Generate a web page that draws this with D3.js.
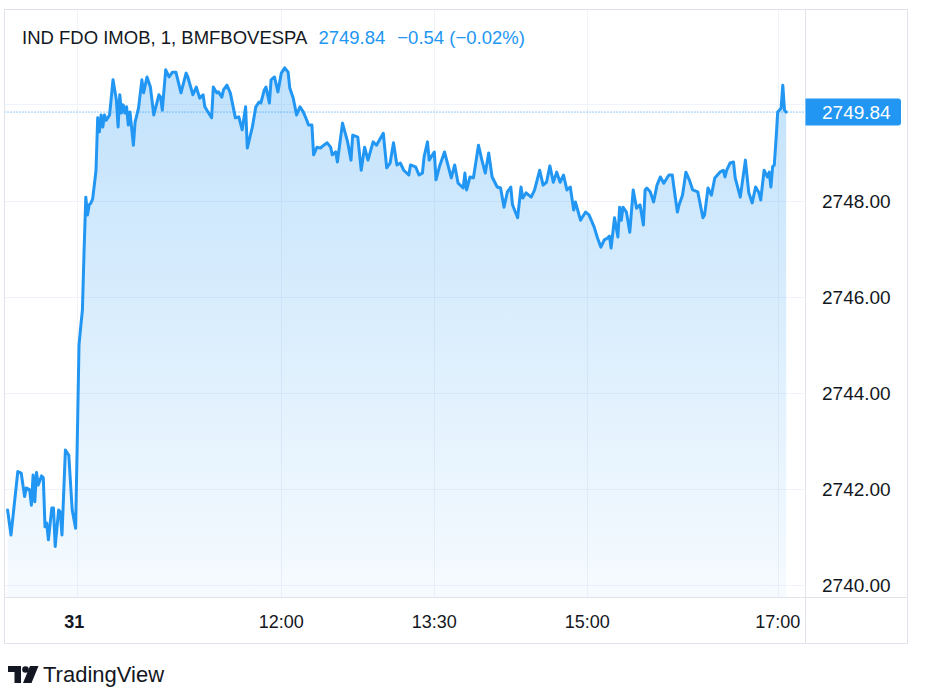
<!DOCTYPE html>
<html><head><meta charset="utf-8">
<script src="https://cdn.jsdelivr.net/npm/d3@7"></script>
<style>
body{margin:0;background:#fff;}
svg{display:block;font-family:"Liberation Sans",Arial,sans-serif;}
</style>
</head><body>
<svg id="c" width="930" height="695"></svg>
<script>
// ---- data (bar index: minutes from session open on the 31st; negatives = previous session) ----
const barIdx = [-41,-39,-35,-33,-31,-30,-28,-27,-26,-25,-24,-23,-21,-20,-19,-18,-17,-15,-14,-13,-11,-10,-9,-7,-5,-3,-1,
0,1,2,3,4,5,6,7,8,9,10,11,12,13,14,15,16,17,19,21,23,24,25,26,27,28,29,30,31,33,34,36,38,39,41,43,45,48,49,50,52,54,56,58,61,64,65,68,70,72,74,75,79,80,82,83,85,86,88,90,93,95,97,99,100,103,105,107,108,110,111,113,114,116,118,
120,122,124,125,127,129,131,133,135,136,138,139,141,143,145,147,149,150,152,153,156,159,161,162,165,167,169,171,174,176,180,182,184,186,188,190,192,195,196,199,201,203,204,206,207,
210,211,213,216,220,222,224,227,228,229,231,233,236,238,240,242,244,247,249,251,253,255,256,259,261,262,264,267,269,272,274,276,278,280,282,284,286,288,290,292,293,296,299,
301,304,306,308,310,312,313,314,316,318,319,320,321,323,325,327,329,331,333,334,335,337,339,341,343,345,348,350,351,353,354,356,358,360,362,365,368,369,371,373,375,378,380,381,382,384,386,387,390,393,395,397,399,401,402,404,406,407,408,409,410,411,412,414,415,416,417];
const prices = [2741.56,2741.04,2742.36,2742.33,2741.84,2742.02,2741.98,2741.66,2742.29,2741.73,2742.34,2742.08,2742.27,2742.23,2741.21,2741.29,2740.94,2741.60,2741.60,2740.80,2741.56,2741.52,2741.04,2742.81,2742.70,2741.56,2741.18,
2743.02,2744.99,2745.37,2745.72,2746.97,2748.07,2747.70,2747.91,2747.95,2748.03,2748.32,2748.63,2749.72,2749.43,2749.78,2749.53,2749.78,2749.67,2749.78,2750.51,2750.09,2749.53,2750.20,2749.82,2749.99,2749.82,2749.95,2749.57,2749.84,2749.15,2749.63,2749.92,2750.51,2750.24,2750.57,2750.36,2749.78,2750.20,2750.15,2749.88,2750.72,2750.57,2750.67,2750.67,2750.24,2750.65,2750.57,2750.20,2750.36,2750.13,2750.20,2749.95,2749.72,2750.36,2750.24,2750.26,2750.15,2750.30,2750.40,2750.24,2749.72,2749.74,2749.47,2749.95,2749.09,2749.53,2749.95,2750.05,2750.03,2750.30,2750.36,2750.03,2750.51,2750.57,2750.26,
2750.65,2750.76,2750.67,2750.34,2750.13,2749.78,2749.95,2749.84,2749.67,2749.57,2749.57,2748.95,2749.11,2749.09,2749.15,2749.20,2749.11,2748.95,2749.01,2748.80,2749.61,2749.22,2748.84,2749.36,2749.32,2748.63,2749.11,2748.84,2749.22,2749.15,2749.40,2748.68,2748.78,2749.20,2748.74,2748.78,2748.63,2748.53,2748.74,2748.70,2748.53,2748.57,2748.91,2749.22,2748.84,
2749.01,2748.43,2748.70,2749.01,2748.47,2748.74,2748.36,2748.26,2748.57,2748.22,2748.49,2748.47,2749.15,2748.84,2748.57,2748.99,2748.49,2748.28,2748.26,2747.86,2748.18,2748.28,2747.91,2747.64,2748.28,2748.05,2748.16,2748.07,2748.22,2748.63,2748.32,2748.38,2748.72,2748.38,2748.59,2748.38,2748.53,2748.22,2748.28,2747.80,2747.97,2747.59,2747.76,
2747.70,2747.45,2747.22,2747.03,2747.18,2747.22,2747.26,2747.01,2747.64,2747.24,2747.86,2747.59,2747.86,2747.76,2747.34,2748.22,2747.84,2747.91,2747.49,2748.22,2748.26,2748.18,2747.97,2748.32,2748.49,2748.36,2748.53,2748.53,2748.26,2747.76,2747.91,2748.11,2748.59,2748.43,2748.22,2748.18,2747.64,2747.70,2748.26,2748.11,2748.47,2748.59,2748.63,2748.49,2748.63,2748.78,2748.80,2748.47,2748.07,2748.84,2748.16,2747.95,2748.28,2748.16,2748.01,2748.63,2748.49,2748.59,2748.28,2748.70,2748.74,2749.26,2749.84,2749.92,2750.40,2749.88,2749.84];

const timeTickIdx = [0, 120, 210, 300, 412];
const timeTickLabels = ["31", "12:00", "13:30", "15:00", "17:00"];
const priceTicks = [2740, 2742, 2744, 2746, 2748, 2750];
const symbolTitle = "IND FDO IMOB, 1, BMFBOVESPA";
const lastPrice = 2749.84;
const changeText = "\u22120.54 (\u22120.02%)";
const brand = "TradingView";

// ---- layout ----
const frame = {l: 4.5, t: 9.5, r: 907.5, b: 643.5};
const paneR = 805.5, paneB = 597.5;
const blue = "#2196F3", ink = "#131722", grid = "#f0f3fa", border = "#e0e3eb";

const svg = d3.select("#c");
const x = d3.scaleLinear().domain([0, 300]).range([77.3, 587.3]);
const y = d3.scaleLinear().domain([2740, 2748]).range([585, 200.5]);
const data = barIdx.map((b, i) => ({b, p: prices[i]}));

// gridlines
svg.append("g").selectAll("line").data(priceTicks).join("line")
  .attr("x1", frame.l).attr("x2", paneR)
  .attr("y1", d => Math.round(y(d)) + 0.5).attr("y2", d => Math.round(y(d)) + 0.5)
  .attr("stroke", grid).attr("stroke-width", 1);
svg.append("g").selectAll("line").data(timeTickIdx).join("line")
  .attr("x1", d => Math.round(x(d)) + 0.5).attr("x2", d => Math.round(x(d)) + 0.5)
  .attr("y1", frame.t).attr("y2", paneB)
  .attr("stroke", grid).attr("stroke-width", 1);

// gradient
const defs = svg.append("defs");
const grad = defs.append("linearGradient").attr("id", "ag")
  .attr("gradientUnits", "userSpaceOnUse")
  .attr("x1", 0).attr("x2", 0).attr("y1", y(d3.max(prices))).attr("y2", paneB);
grad.append("stop").attr("offset", 0).attr("stop-color", blue).attr("stop-opacity", 0.28);
grad.append("stop").attr("offset", 1).attr("stop-color", blue).attr("stop-opacity", 0.04);
defs.append("clipPath").attr("id", "pane").append("rect")
  .attr("x", frame.l).attr("y", frame.t).attr("width", paneR - frame.l).attr("height", paneB - frame.t);

const g = svg.append("g").attr("clip-path", "url(#pane)");
g.append("path").datum(data)
  .attr("d", d3.area().x(d => x(d.b)).y0(paneB).y1(d => y(d.p)))
  .attr("fill", "url(#ag)");
// last price dotted line
g.append("line").attr("x1", frame.l).attr("x2", paneR)
  .attr("y1", y(lastPrice)).attr("y2", y(lastPrice))
  .attr("stroke", blue).attr("stroke-width", 1).attr("stroke-dasharray", "1,2");
g.append("path").datum(data)
  .attr("d", d3.line().x(d => x(d.b)).y(d => y(d.p)))
  .attr("fill", "none").attr("stroke", blue).attr("stroke-width", 3)
  .attr("stroke-linejoin", "round").attr("stroke-linecap", "round");

// frame and separators
svg.append("rect").attr("x", frame.l).attr("y", frame.t)
  .attr("width", frame.r - frame.l).attr("height", frame.b - frame.t)
  .attr("fill", "none").attr("stroke", border);
svg.append("line").attr("x1", paneR).attr("x2", paneR).attr("y1", frame.t).attr("y2", frame.b).attr("stroke", border);
svg.append("line").attr("x1", frame.l).attr("x2", frame.r).attr("y1", paneB).attr("y2", paneB).attr("stroke", border);

// price axis labels (hide those overlapped by last price label)
const lpY = y(lastPrice);
svg.append("g").selectAll("text").data(priceTicks.filter(d => Math.abs(y(d) - lpY) > 16)).join("text")
  .attr("x", 822).attr("y", d => y(d) + 7)
  .attr("fill", ink).attr("font-size", 19).text(d => d.toFixed(2));

// last price label
const h = 27, bx0 = paneR, bx1 = 901, r = 3;
svg.append("path")
  .attr("d", `M${bx0},${lpY - h/2} H${bx1 - r} Q${bx1},${lpY - h/2} ${bx1},${lpY - h/2 + r} V${lpY + h/2 - r} Q${bx1},${lpY + h/2} ${bx1 - r},${lpY + h/2} H${bx0} Z`)
  .attr("fill", blue);
svg.append("text").attr("x", 822).attr("y", lpY + 7).attr("fill", "#fff")
  .attr("font-size", 19).text(lastPrice.toFixed(2));

// time axis labels
svg.append("g").selectAll("text").data(timeTickIdx).join("text")
  .attr("x", d => x(d) - (d === 0 ? 3 : 0)).attr("y", 628)
  .attr("text-anchor", "middle").attr("fill", ink).attr("font-size", 18)
  .attr("font-weight", (d, i) => i === 0 ? "bold" : "normal")
  .text((d, i) => timeTickLabels[i]);

// title legend
const fs = 18.5;
const t1 = svg.append("text").attr("x", 22).attr("y", 44).attr("fill", ink).attr("font-size", fs).text(symbolTitle);
const w1 = t1.node().getComputedTextLength();
const t2 = svg.append("text").attr("x", 22 + w1 + 11).attr("y", 44).attr("fill", blue).attr("font-size", fs).text(lastPrice.toFixed(2));
const w2 = t2.node().getComputedTextLength();
svg.append("text").attr("x", 22 + w1 + 11 + w2 + 12).attr("y", 44).attr("fill", blue).attr("font-size", fs).text(changeText);

// TradingView logo
const logo = svg.append("g").attr("fill", ink);
logo.append("path").attr("d", "M8,666 H21 V683 H14.5 V672 H8 Z");
logo.append("circle").attr("cx", 25.5).attr("cy", 669.5).attr("r", 3.3);
logo.append("path").attr("d", "M30,666 H38.5 L31.5,683 H23 Z");
svg.append("text").attr("x", 43).attr("y", 682).attr("fill", ink)
  .attr("font-size", 22).attr("font-weight", 500).text(brand);
</script>
</body></html>
